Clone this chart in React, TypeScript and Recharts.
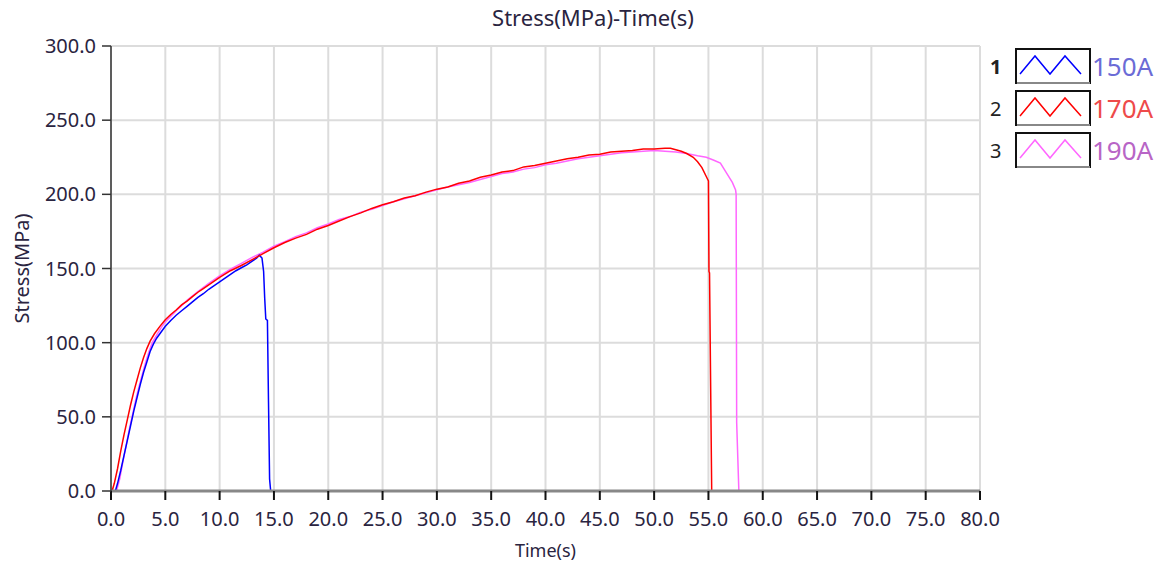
import React from 'react';
import { LineChart, Line, XAxis, YAxis, CartesianGrid, Legend, Customized } from 'recharts';

const xTicks = [0, 5, 10, 15, 20, 25, 30, 35, 40, 45, 50, 55, 60, 65, 70, 75, 80];
const yTicks = [0, 50, 100, 150, 200, 250, 300];

const seriesNames = ['150A', '170A', '190A'];
const seriesColors = ['#0000ff', '#ff0000', '#ff66ff'];
const legendTextColors = ['#6b6bd6', '#ee4a4a', '#b865c6'];

const s150 = [
  { t: 0.4, v: 0 }, { t: 0.6, v: 5 }, { t: 0.9, v: 14 }, { t: 1.2, v: 24 }, { t: 1.5, v: 34 },
  { t: 1.8, v: 44 }, { t: 2.1, v: 54 }, { t: 2.4, v: 63 }, { t: 2.7, v: 72 }, { t: 3.0, v: 80 },
  { t: 3.3, v: 87 }, { t: 3.6, v: 94 }, { t: 3.9, v: 99 }, { t: 4.2, v: 103 }, { t: 4.6, v: 107 },
  { t: 5.0, v: 111 }, { t: 5.5, v: 115 }, { t: 6.0, v: 118.5 }, { t: 6.5, v: 121.5 }, { t: 7.0, v: 124.5 },
  { t: 7.5, v: 127.5 }, { t: 8.0, v: 130.5 }, { t: 8.5, v: 133 }, { t: 9.0, v: 136 }, { t: 9.5, v: 138.5 },
  { t: 10.0, v: 141 }, { t: 10.5, v: 143.5 }, { t: 11.0, v: 146 }, { t: 11.5, v: 148.5 }, { t: 12.0, v: 150.5 },
  { t: 12.5, v: 152.5 }, { t: 13.0, v: 155 }, { t: 13.4, v: 157 }, { t: 13.65, v: 159 }, { t: 13.9, v: 157 },
  { t: 14.05, v: 148 }, { t: 14.15, v: 130 }, { t: 14.25, v: 116 }, { t: 14.4, v: 115 }, { t: 14.5, v: 60 },
  { t: 14.6, v: 8 }, { t: 14.7, v: 0 },
];

const s170 = [
  { t: 0.1, v: 0 }, { t: 0.3, v: 5 }, { t: 0.6, v: 15 }, { t: 0.9, v: 27 }, { t: 1.2, v: 38 },
  { t: 1.5, v: 48 }, { t: 1.8, v: 58 }, { t: 2.1, v: 67 }, { t: 2.4, v: 75 }, { t: 2.7, v: 83 },
  { t: 3.0, v: 90 }, { t: 3.3, v: 96 }, { t: 3.6, v: 101 }, { t: 4.0, v: 106 }, { t: 4.5, v: 111 },
  { t: 5.0, v: 115.5 }, { t: 5.5, v: 119 }, { t: 6.0, v: 122 }, { t: 6.5, v: 125.5 }, { t: 7.0, v: 128 },
  { t: 7.5, v: 131 }, { t: 8.0, v: 134 }, { t: 8.5, v: 136.5 }, { t: 9.0, v: 139 }, { t: 9.5, v: 141.5 },
  { t: 10.0, v: 144 }, { t: 11.0, v: 148.5 }, { t: 12.0, v: 152 }, { t: 13.0, v: 156 }, { t: 14.0, v: 160 },
  { t: 15.0, v: 164 }, { t: 16.0, v: 167.5 }, { t: 17.0, v: 170.5 }, { t: 18.0, v: 173 }, { t: 19.0, v: 176.5 },
  { t: 20.0, v: 179 }, { t: 21.0, v: 182 }, { t: 22.0, v: 185 }, { t: 23.0, v: 187.5 }, { t: 24.0, v: 190.5 },
  { t: 25.0, v: 193 }, { t: 26.0, v: 195 }, { t: 27.0, v: 197.5 }, { t: 28.0, v: 199 }, { t: 29.0, v: 201.5 },
  { t: 30.0, v: 203.5 }, { t: 31.0, v: 205 }, { t: 32.0, v: 207.5 }, { t: 33.0, v: 209 }, { t: 34.0, v: 211.5 },
  { t: 35.0, v: 213 }, { t: 36.0, v: 215 }, { t: 37.0, v: 216 }, { t: 38.0, v: 218.5 }, { t: 39.0, v: 219.5 },
  { t: 40.0, v: 221 }, { t: 41.0, v: 222.5 }, { t: 42.0, v: 224 }, { t: 43.0, v: 225 }, { t: 44.0, v: 226.5 },
  { t: 45.0, v: 227 }, { t: 46.0, v: 228.5 }, { t: 47.0, v: 229 }, { t: 48.0, v: 229.5 }, { t: 49.0, v: 230.5 },
  { t: 50.0, v: 230.5 }, { t: 51.0, v: 231 }, { t: 51.5, v: 231 }, { t: 52.0, v: 230 }, { t: 52.5, v: 229 },
  { t: 53.0, v: 227.5 }, { t: 53.6, v: 225 }, { t: 54.0, v: 222 }, { t: 54.4, v: 218 }, { t: 54.8, v: 212 },
  { t: 55.0, v: 209 }, { t: 55.05, v: 148 }, { t: 55.1, v: 147 }, { t: 55.3, v: 0 },
];

const s190 = [
  { t: 0.5, v: 0 }, { t: 0.8, v: 8 }, { t: 1.1, v: 20 }, { t: 1.4, v: 31 }, { t: 1.7, v: 42 },
  { t: 2.0, v: 52 }, { t: 2.3, v: 62 }, { t: 2.6, v: 71 }, { t: 2.9, v: 79 }, { t: 3.2, v: 87 },
  { t: 3.5, v: 94 }, { t: 3.8, v: 100 }, { t: 4.2, v: 105 }, { t: 4.6, v: 110 }, { t: 5.0, v: 114 },
  { t: 6.0, v: 121.5 }, { t: 7.0, v: 128.5 }, { t: 8.0, v: 134.5 }, { t: 9.0, v: 140 }, { t: 10.0, v: 145 },
  { t: 11.0, v: 149.5 }, { t: 12.0, v: 153.5 }, { t: 13.0, v: 157.5 }, { t: 14.0, v: 161 }, { t: 15.0, v: 165 },
  { t: 16.0, v: 168 }, { t: 17.0, v: 171.5 }, { t: 18.0, v: 174 }, { t: 19.0, v: 177.5 }, { t: 20.0, v: 180 },
  { t: 21.0, v: 183 }, { t: 22.0, v: 185 }, { t: 23.0, v: 188 }, { t: 24.0, v: 190 }, { t: 25.0, v: 192.5 },
  { t: 26.0, v: 195 }, { t: 27.0, v: 197 }, { t: 28.0, v: 199 }, { t: 29.0, v: 201 }, { t: 30.0, v: 203 },
  { t: 31.0, v: 205 }, { t: 32.0, v: 206.5 }, { t: 33.0, v: 208 }, { t: 34.0, v: 210 }, { t: 35.0, v: 212 },
  { t: 36.0, v: 214 }, { t: 37.0, v: 215 }, { t: 38.0, v: 217 }, { t: 39.0, v: 218 }, { t: 40.0, v: 220 },
  { t: 41.0, v: 221 }, { t: 42.0, v: 222.5 }, { t: 43.0, v: 224 }, { t: 44.0, v: 225 }, { t: 45.0, v: 226 },
  { t: 46.0, v: 227 }, { t: 47.0, v: 228 }, { t: 48.0, v: 228.5 }, { t: 49.0, v: 229 }, { t: 50.0, v: 229.5 },
  { t: 51.0, v: 229 }, { t: 52.0, v: 228.5 }, { t: 53.0, v: 227.5 }, { t: 54.0, v: 226 }, { t: 54.8, v: 225 },
  { t: 55.5, v: 223 }, { t: 56.1, v: 221 }, { t: 56.7, v: 214 }, { t: 57.2, v: 208 }, { t: 57.5, v: 203 },
  { t: 57.55, v: 200 }, { t: 57.6, v: 46 }, { t: 57.8, v: 0 },
];

const FONT = '"Noto Sans", "Open Sans", sans-serif';
const TEXT = '#2a2440';

const LegendContent = () => (
  <div style={{ fontFamily: FONT }}>
    {seriesNames.map((name, i) => (
      <div key={name} style={{ display: 'flex', alignItems: 'center', height: 42 }}>
        <span style={{ width: 25, fontSize: 20, color: '#222', fontWeight: i === 0 ? 700 : 400, textAlign: 'left' }}>{i + 1}</span>
        <svg width={76} height={36} style={{ display: 'block' }}>
          <rect x={1} y={1} width={74} height={34} fill="#fff" stroke="#111" strokeWidth={2} />
          <line x1={2} y1={35} x2={75} y2={35} stroke="#888" strokeWidth={2} />
          <polyline
            points="5,26 20,8 35,26 50,8 66,26"
            fill="none"
            stroke={seriesColors[i]}
            strokeWidth={1.5}
          />
        </svg>
        <span style={{ fontSize: 26, color: legendTextColors[i], marginLeft: 1, lineHeight: 1 }}>{name}</span>
      </div>
    ))}
  </div>
);

const Title = () => (
  <text x={593} y={26} textAnchor="middle" fontFamily={FONT} fontSize={22} fill={TEXT}>
    Stress(MPa)-Time(s)
  </text>
);

export default function App() {
  return (
    <div style={{ position: 'absolute', left: 0, top: 0, width: 1161, height: 562, background: '#fff' }}>
      <LineChart width={1161} height={562} margin={{ top: 46, right: 11, bottom: 41, left: 0 }}>
        <CartesianGrid vertical horizontal stroke="#dcdcdc" strokeWidth={2} />
        <XAxis
          xAxisId="top"
          orientation="top"
          type="number"
          dataKey="t"
          domain={[0, 80]}
          height={0}
          tick={false}
          tickLine={false}
          axisLine={{ stroke: '#333', strokeWidth: 1.5 }}
        />
        <YAxis
          yAxisId="right"
          orientation="right"
          type="number"
          domain={[0, 300]}
          width={0}
          tick={false}
          tickLine={false}
          axisLine={{ stroke: '#bbb', strokeWidth: 2 }}
        />
        <XAxis
          type="number"
          dataKey="t"
          domain={[0, 80]}
          ticks={xTicks}
          interval={0}
          height={30}
          tickFormatter={(v: number) => v.toFixed(1)}
          tick={{ fill: TEXT, fontSize: 20, fontFamily: FONT }}
          tickLine={{ stroke: '#111', strokeWidth: 2 }}
          tickSize={9}
          tickMargin={12}
          axisLine={{ stroke: '#888', strokeWidth: 3 }}
          label={{ value: 'Time(s)', position: 'insideBottom', offset: -36, fill: TEXT, fontSize: 18, fontFamily: FONT }}
        />
        <YAxis
          type="number"
          domain={[0, 300]}
          ticks={yTicks}
          interval={0}
          width={111}
          tickFormatter={(v: number) => v.toFixed(1)}
          tick={{ fill: TEXT, fontSize: 20, fontFamily: FONT }}
          tickLine={{ stroke: '#333', strokeWidth: 1.5 }}
          tickSize={9}
          tickMargin={6}
          axisLine={{ stroke: '#333', strokeWidth: 1.5 }}
          label={{ value: 'Stress(MPa)', angle: -90, position: 'insideLeft', offset: 22, fill: TEXT, fontSize: 20, fontFamily: FONT, style: { textAnchor: 'middle' } }}
        />
        <Legend
          layout="vertical"
          align="right"
          verticalAlign="top"
          content={LegendContent}
          wrapperStyle={{ left: 990, top: 45, width: 170 }}
        />
        <Line data={s190} dataKey="v" name="190A" type="linear" stroke="#ff66ff" strokeWidth={1.5} dot={false} isAnimationActive={false} />
        <Line data={s150} dataKey="v" name="150A" type="linear" stroke="#0000ff" strokeWidth={1.5} dot={false} isAnimationActive={false} />
        <Line data={s170} dataKey="v" name="170A" type="linear" stroke="#ff0000" strokeWidth={1.5} dot={false} isAnimationActive={false} />
        <Customized component={Title} />
      </LineChart>
    </div>
  );
}
